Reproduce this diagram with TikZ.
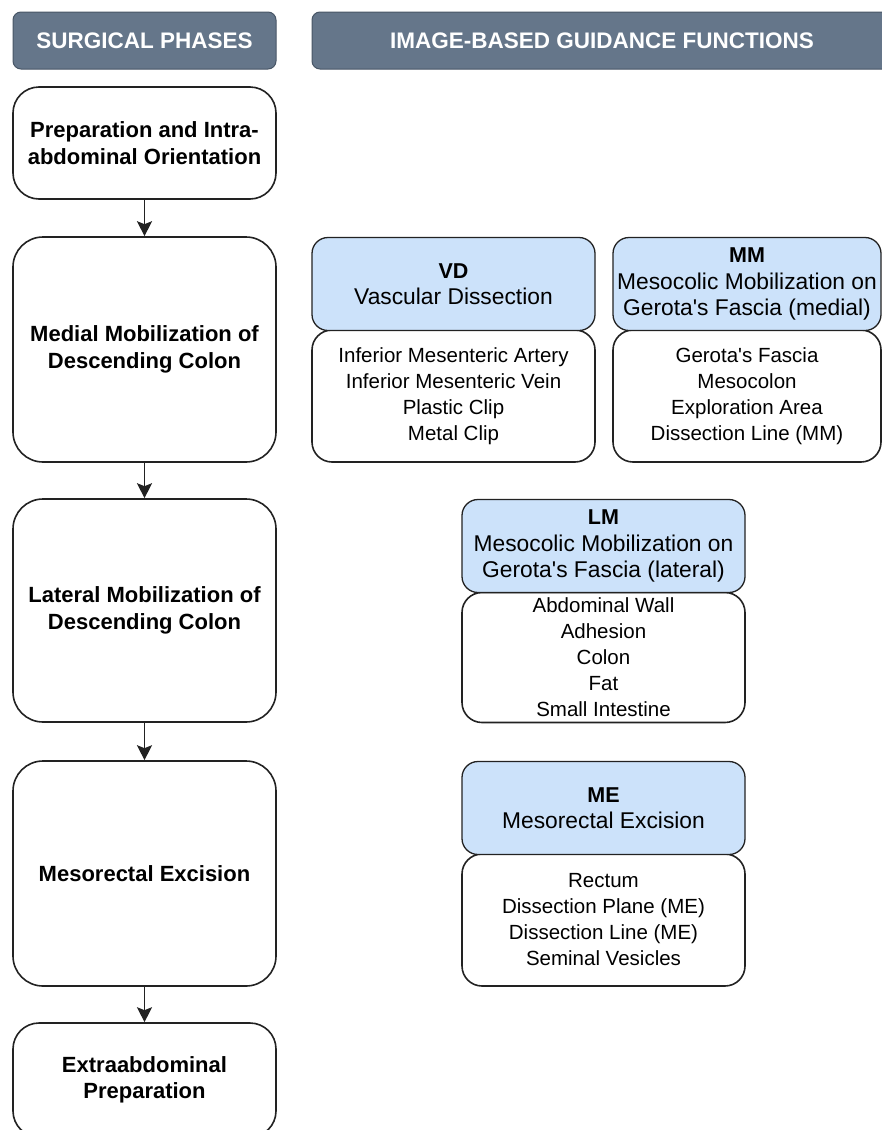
\documentclass[tikz,border=0pt]{standalone}
\usepackage{fontspec}
\newfontfamily\arial{Liberation Sans}
\usetikzlibrary{arrows.meta}
\definecolor{hdrfill}{RGB}{101,118,138}
\definecolor{hdrline}{RGB}{72,86,102}
\definecolor{bluefill}{RGB}{204,226,250}
\definecolor{lineclr}{RGB}{34,34,34}
\tikzset{
 hdr/.style={fill=hdrfill, draw=hdrline, line width=1pt, rounded corners=8pt},
 hdrtext/.style={text=white, font=\arial\bfseries\fontsize{22.5}{26}\selectfont},
 phase/.style={draw=lineclr, line width=1.6pt, fill=white, rounded corners=30pt, minimum width=263pt, align=center, inner sep=0pt, font=\arial\bfseries\fontsize{22}{26.5}\selectfont},
 fhead/.style={draw=lineclr, line width=1.3pt, fill=bluefill, rounded corners=16pt, align=center, inner sep=0pt, minimum width=283pt, minimum height=93pt, font=\arial\fontsize{22.8}{26.5}\selectfont},
 fbody/.style={draw=lineclr, line width=1.6pt, fill=white, rounded corners=20pt, align=center, inner sep=0pt, minimum width=283pt, font=\arial\fontsize{20.5}{26}\selectfont},
 flow/.style={draw=lineclr, line width=1.4pt, -{Stealth[length=15pt,width=15pt,inset=3pt]}},
}
\newcommand{\ttl}[1]{{\bfseries\fontsize{21.5}{26.5}\selectfont #1}}
\begin{document}
\begin{tikzpicture}[x=1pt,y=-1pt]
\useasboundingbox (0,0) rectangle (882,1130);
% headers
\node[hdr, hdrtext, minimum width=263pt, minimum height=57pt] (hL) at (144.5,40.5) {SURGICAL PHASES};
\path[hdr] (312,12) rectangle (892,69);
\node[hdrtext] (hR) at (602,40.5) {IMAGE-BASED GUIDANCE FUNCTIONS};
% phases
\node[phase, minimum height=112pt, rounded corners=26pt] (p1) at (144.5,143) {Preparation and Intra-\\abdominal Orientation};
\node[phase, minimum height=225pt] (p2) at (144.5,349.5) {Medial Mobilization of\\Descending Colon};
\node[phase, minimum height=223pt] (p3) at (144.5,610.5) {Lateral Mobilization of\\Descending Colon};
\node[phase, minimum height=225pt] (p4) at (144.5,873.5) {Mesorectal Excision};
\node[phase, minimum height=114pt, rounded corners=26pt] (p5) at (144.5,1080) {Extraabdominal\\Preparation};
\draw[flow] (p1.south) -- (p2.north);
\draw[flow] (p2.south) -- (p3.north);
\draw[flow] (p3.south) -- (p4.north);
\draw[flow] (p4.south) -- (p5.north);
% VD
\node[fbody, minimum height=132pt] (vdb) at (453.5,396) {Inferior Mesenteric Artery\\Inferior Mesenteric Vein\\Plastic Clip\\Metal Clip};
\node[fhead] (vdh) at (453.5,284) {\ttl{VD}\\Vascular Dissection};
% MM
\node[fbody, minimum width=268pt, minimum height=132pt] (mmb) at (747,396) {Gerota's Fascia\\Mesocolon\\Exploration Area\\Dissection Line (MM)};
\node[fhead, minimum width=268pt] (mmh) at (747,284) {\ttl{MM}\\Mesocolic Mobilization on\\Gerota's Fascia (medial)};
% LM
\node[fbody, minimum height=130pt] (lmb) at (603.5,657.5) {Abdominal Wall\\Adhesion\\Colon\\Fat\\Small Intestine};
\node[fhead] (lmh) at (603.5,546) {\ttl{LM}\\Mesocolic Mobilization on\\Gerota's Fascia (lateral)};
% ME
\node[fbody, minimum height=132pt] (meb) at (603.5,920) {Rectum\\Dissection Plane (ME)\\Dissection Line (ME)\\Seminal Vesicles};
\node[fhead] (meh) at (603.5,808) {\ttl{ME}\\Mesorectal Excision};
\end{tikzpicture}
\end{document}
